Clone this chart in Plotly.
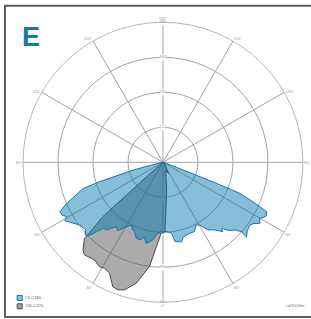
import plotly.graph_objects as go

# ---------------- data ----------------
series_names = ["C0-C180", "C90-C270"]

# C0-C180 (blue): negative angles = C180 half (left), positive = C0 half (right)
c0_theta = [-90, -80, -76, -75.5, -73, -71.9, -66.9, -64.4, -62.5, -60.5, -59.2, -57.9,
            -55.5, -53, -49, -47, -45.4, -42.1, -40, -36, -33.5, -31.3, -26.9, -24,
            -22.3, -19.4, -15.7, -14, -11.7, -9.6, -7.5, -5.3, -1.5, 0, 3, 7, 8.6,
            13.2, 15.1, 20.8, 24.4, 27.9, 30.5, 33.5, 37, 40.8, 41.4, 44, 46.8, 48.6,
            48.1, 51, 54.2, 56, 57.8, 59.9, 61, 62.5, 64.5, 65.4, 66.5, 68, 68.5, 69,
            70, 75, 90]
c0_r = [0, 10, 60, 105, 226, 287, 359, 392, 391, 379, 392, 383,
        370, 357, 352, 365, 360, 305, 303, 273, 282, 265, 241, 254,
        257, 276, 277, 263, 284, 276, 269, 250, 238, 238, 238, 245, 275,
        280, 266, 260, 261, 243, 250, 278, 290, 314, 302, 325, 339, 360,
        385, 372, 368, 375, 393, 383, 392, 399, 394, 366, 330, 285, 200, 100,
        30, 5, 0]

# C90-C270 (grey)
c90_theta = [-90, -60, -50, -48.5, -48, -47.9, -46, -45.9, -42.4, -40.3, -35, -31.3,
             -28.9, -25.7, -22, -19.5, -16.8, -12.5, -7.4, -1.5, 0, 1.5, 3, 7.6,
             18, 26, 45, 60, 90]
c90_r = [0, 0, 0, 100, 156, 278, 359, 375, 407, 416, 409, 419,
         415, 422, 460, 464, 457, 425, 361, 243, 243, 240, 180, 96,
         30, 42, 10, 5, 0]

radial_ticks = [120, 240, 360, 480]
angle_tickvals = [0, 30, 60, 90, 120, 150, 180, 210, 240, 270, 300, 330]
angle_ticktext = ["0°", "30°", "60°", "90°", "120°", "150°", "180°",
                  "150°", "120°", "90°", "60°", "30°"]
unit_label = "cd/1000lm"
panel_label = "E"

# ---------------- styles ----------------
GRID = "#a3a3a3"
BLUE_LINE = "#1577a8"
BLUE_FILL = "rgba(0,120,170,0.48)"
GREY_LINE = "#4a4a4a"
GREY_FILL = "rgba(88,88,94,0.5)"
TXT = "#9a9a9a"

fig = go.Figure()

# radial labels on the vertical axis (top and bottom)
for ang in (180, 0):
    fig.add_trace(go.Scatterpolar(
        r=radial_ticks, theta=[ang] * len(radial_ticks),
        mode="markers+text", text=[str(v) for v in radial_ticks],
        textposition="middle center",
        textfont=dict(size=4, color=TXT, family="Liberation Sans"),
        marker=dict(symbol="square", size=6, color="white"),
        showlegend=False, hoverinfo="skip"))

fig.add_trace(go.Scatterpolar(
    r=c90_r, theta=c90_theta, mode="lines", fill="toself",
    fillcolor=GREY_FILL, line=dict(color=GREY_LINE, width=1),
    name=series_names[1], showlegend=False))

fig.add_trace(go.Scatterpolar(
    r=c0_r, theta=c0_theta, mode="lines", fill="toself",
    fillcolor=BLUE_FILL, line=dict(color=BLUE_LINE, width=1),
    name=series_names[0], showlegend=False))

# legend keys on a hidden cartesian subplot
fig.add_trace(go.Scatter(
    x=[0, 0], y=[1, 0], mode="markers+text",
    text=["&nbsp;" + s for s in series_names], textposition="middle right",
    textfont=dict(size=4, color="#555555", family="Liberation Sans"),
    marker=dict(symbol="square", size=5,
                color=["rgba(0,140,200,0.5)", "rgba(88,88,94,0.55)"],
                line=dict(color=[BLUE_LINE, GREY_LINE], width=1)),
    showlegend=False, hoverinfo="skip", cliponaxis=False,
    xaxis="x", yaxis="y"))

fig.update_layout(
    template="none",
    width=311, height=319,
    margin=dict(l=0, r=0, t=0, b=0),
    paper_bgcolor="white",
    plot_bgcolor="rgba(0,0,0,0)",
    showlegend=False,
    polar=dict(
        domain=dict(x=[0.074, 0.974], y=[0.0524, 0.930]),
        bgcolor="white",
        radialaxis=dict(range=[0, 480], tickvals=radial_ticks, showticklabels=False,
                        ticks="", showline=False, gridcolor=GRID, gridwidth=0.8),
        angularaxis=dict(rotation=-90, direction="counterclockwise",
                         tickvals=angle_tickvals, ticktext=angle_ticktext,
                         tickfont=dict(size=4, color=TXT, family="Liberation Sans"),
                         ticks="", gridcolor=GRID, gridwidth=0.8,
                         linecolor=GRID, linewidth=0.8, showline=True),
    ),
    xaxis=dict(domain=[0.0633, 0.3], range=[0, 1], visible=False, fixedrange=True),
    yaxis=dict(domain=[0.0398, 0.0658], range=[0, 1], visible=False, fixedrange=True),
    annotations=[
        dict(text="<b>" + panel_label + "</b>", x=30.5 / 311, y=1 - 37 / 319,
             xref="paper", yref="paper", showarrow=False,
             xanchor="center", yanchor="middle",
             font=dict(size=27, color="#137aa6", family="Liberation Sans")),
        dict(text=unit_label, x=295 / 311, y=1 - 305 / 319,
             xref="paper", yref="paper", showarrow=False,
             xanchor="center", yanchor="middle",
             font=dict(size=4, color="#777777", family="Liberation Sans")),
    ],
    shapes=[
        dict(type="rect", xref="paper", yref="paper",
             x0=5 / 311, x1=1.02, y0=2 / 319, y1=1 - 5.7 / 319,
             line=dict(color="#5c5c5c", width=2)),
    ],
)

fig.write_html("out.html", config={"displayModeBar": False},
               post_script="document.body.style.margin='0';document.body.style.overflow='hidden';")
